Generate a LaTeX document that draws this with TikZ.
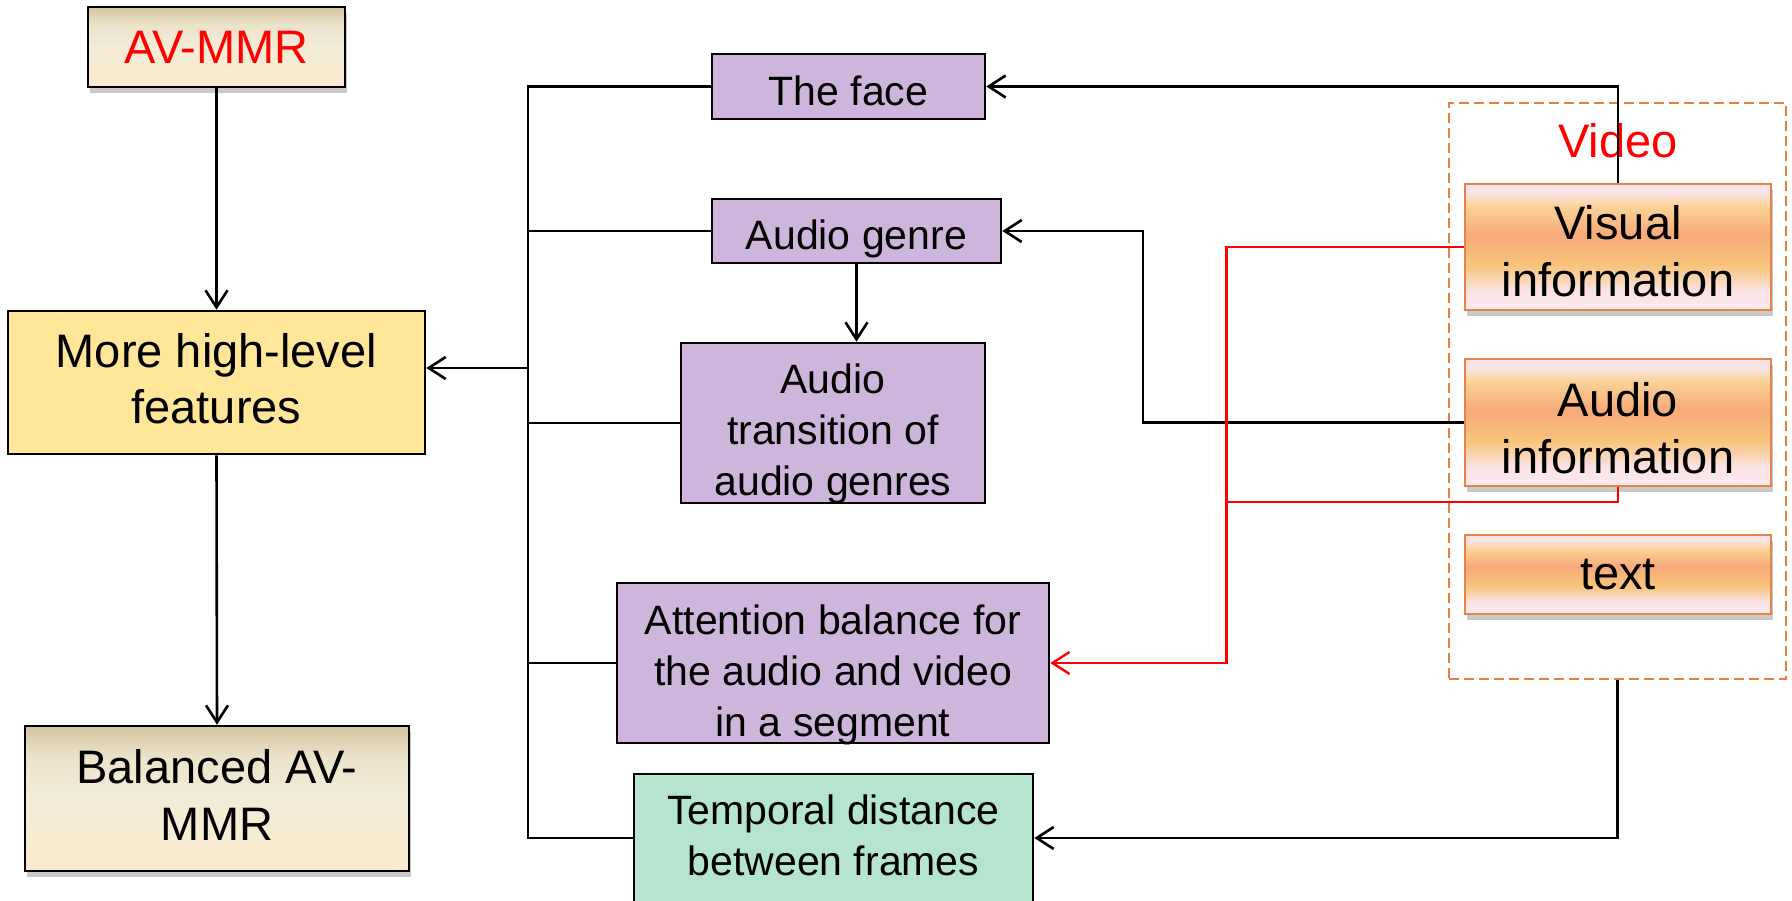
\documentclass[tikz,border=0pt]{standalone}
\usepackage{fontspec}
\setmainfont{Liberation Sans}
\usetikzlibrary{arrows.meta,shadows}

\definecolor{purp}{RGB}{205,181,219}
\definecolor{featyel}{RGB}{255,230,153}
\definecolor{mint}{RGB}{181,229,206}
\definecolor{infoedge}{RGB}{228,132,72}
\definecolor{groupedge}{RGB}{230,128,66}
\definecolor{tanA}{RGB}{212,197,160}
\definecolor{tanB}{RGB}{236,227,203}
\definecolor{tanC}{RGB}{243,236,216}
\definecolor{tanD}{RGB}{252,236,206}
\definecolor{infoPink}{RGB}{251,228,233}
\definecolor{infoYel}{RGB}{250,210,150}
\definecolor{infoSal}{RGB}{247,170,122}
\definecolor{infoOr}{RGB}{248,196,122}
\definecolor{infoPale}{RGB}{252,232,238}

% vertical shadings: 25bp = bottom edge, 75bp = top edge of the filled path
\pgfdeclareverticalshading{tanshade}{100bp}{%
  color(0bp)=(tanD); color(25bp)=(tanD); color(50bp)=(tanC);
  color(64bp)=(tanB); color(75bp)=(tanA); color(100bp)=(tanA)}
\pgfdeclareverticalshading{infoshade}{100bp}{%
  color(0bp)=(infoPale); color(25bp)=(infoPale); color(32bp)=(infoPink);
  color(43bp)=(infoOr); color(55bp)=(infoSal); color(66bp)=(infoYel);
  color(72bp)=(infoPink); color(75bp)=(infoPink); color(100bp)=(infoPink)}

% text height/depth below place the last text line's baseline
% at (height - depth)/2 below each box centre
\tikzset{
  box/.style={draw=black, line width=2.6pt, inner sep=0pt, align=center},
  bigtext/.style={font=\fontsize{47}{57}\selectfont},
  smalltext/.style={font=\fontsize{41}{51}\selectfont},
  tanbox/.style={box, bigtext, shading=tanshade,
    drop shadow={shadow xshift=2pt, shadow yshift=-6pt, fill=black!60, opacity=0.35}},
  featbox/.style={box, bigtext, fill=featyel},
  purpbox/.style={box, smalltext, fill=purp},
  mintbox/.style={box, smalltext, fill=mint},
  infobox/.style={draw=infoedge, line width=2.6pt, inner sep=0pt, align=center,
    bigtext, shading=infoshade, minimum width=306pt,
    drop shadow={shadow xshift=2pt, shadow yshift=-6pt, fill=black!60, opacity=0.35}},
  groupbox/.style={draw=groupedge, line width=2.8pt, dash pattern=on 10pt off 5pt,
    inner sep=0pt},
  link/.style={line width=2.6pt, draw=black},
  arr/.style={link, -{Straight Barb[length=17pt,width=22pt,line width=2.6pt]}},
  redlink/.style={line width=2.4pt, draw=red},
  redarr/.style={redlink, -{Straight Barb[length=17pt,width=22pt,line width=2.4pt]}},
}

\begin{document}
\begin{tikzpicture}[x=1pt, y=-1pt]
\clip (0,0) rectangle (1792,901);
\fill[white] (0,0) rectangle (1792,901);

% left column
\node[tanbox, minimum width=257pt, minimum height=80pt, text=red] (avmmr) at (216.5,47) {AV-MMR};
\node[featbox, minimum width=417pt, minimum height=143pt, text height=90pt, text depth=7pt] (more) at (216.5,382.5) {More high-level\\features};
\node[tanbox, minimum width=384pt, minimum height=145pt, text height=90pt, text depth=7pt] (bal) at (217,798.5) {Balanced AV-\\MMR};

% feature boxes
\node[purpbox, minimum width=273pt, minimum height=65pt, text height=39pt, text depth=0pt] (face) at (848.5,86.5) {The face};
\node[purpbox, minimum width=289pt, minimum height=64pt, text height=38pt, text depth=0pt] (genre) at (856.5,231) {Audio genre};
\node[purpbox, minimum width=304pt, minimum height=160pt, text height=144pt, text depth=0pt] (trans) at (833,423) {Audio\\transition of\\audio genres};
\node[purpbox, minimum width=432pt, minimum height=160pt, text height=146pt, text depth=0pt] (attn) at (833,663) {Attention balance for\\the audio and video\\in a segment};
\node[mintbox, minimum width=399pt, minimum height=128pt, text height=74pt, text depth=0pt] (temp) at (833.5,838) {Temporal distance\\between frames};

% video group
\node[groupbox, minimum width=337pt, minimum height=576pt] (videobox) at (1617.5,391) {};
\node[anchor=base, text=red, bigtext, inner sep=0pt] (videolabel) at (1618,158) {Video};
\node[infobox, minimum height=126pt, text height=100pt, text depth=0pt] (visual) at (1618,247) {Visual\\information};
\node[infobox, minimum height=127pt, text height=101pt, text depth=0pt] (audio) at (1618,422.5) {Audio\\information};
\node[infobox, minimum height=79pt] (textinfo) at (1618,574.5) {text};

% bend points
\coordinate (bus) at (528,368);
\coordinate (gbend) at (1143,422.5);
\coordinate (rbend) at (1226.5,502);

% left column flow
\draw[arr] (avmmr.south) -- (more.north);
\draw[arr] (more.south) -- (bal.north);

% collecting bus into the feature box
\draw[link] (face.west) -| (bus |- temp.west) -- (temp.west);
\draw[link] (genre.west) -- (genre.west -| bus);
\draw[link] (trans.west) -- (trans.west -| bus);
\draw[link] (attn.west) -- (attn.west -| bus);
\draw[arr] (bus) -- (more.east |- bus);

% feature derivations
\draw[arr] (genre.south) -- (genre.south |- trans.north);
\draw[arr] (visual.north) |- (face.east);
\draw[arr] (audio.west) -- (gbend) |- (genre.east);
\draw[redarr] (visual.west) -| (rbend |- visual.west) -- (rbend |- attn.east) -- (attn.east);
\draw[redlink] (audio.south) |- (rbend);
\draw[arr] (videobox.south) |- (temp.east);
\end{tikzpicture}
\end{document}
